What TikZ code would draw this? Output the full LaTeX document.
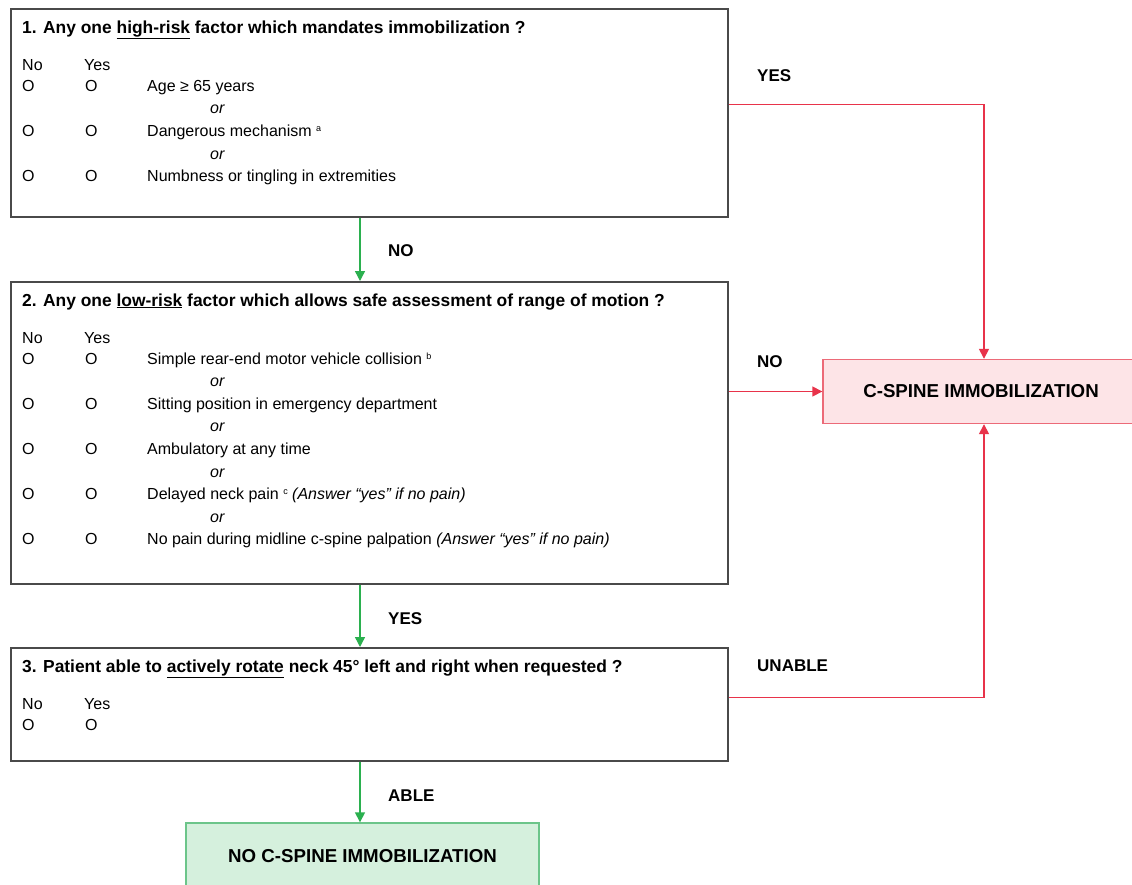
\documentclass[tikz,border=0pt]{standalone}
\usepackage{fontspec}
\setmainfont{Liberation Sans}
\usetikzlibrary{arrows.meta}
\definecolor{boxgray}{HTML}{4A4A4A}
\definecolor{arrgreen}{HTML}{2BB04F}
\definecolor{arrred}{HTML}{E8334A}
\definecolor{redfill}{HTML}{FDE4E7}
\definecolor{redline}{HTML}{EC6A78}
\definecolor{greenfill}{HTML}{D5F0DD}
\definecolor{greenline}{HTML}{6CC58A}
\newcommand\fnmark[1]{\raisebox{5pt}{\fontsize{9}{9}\selectfont #1}}
\begin{document}
\begin{tikzpicture}[x=1pt,y=-1pt,
  qbox/.style={draw=boxgray, line width=1.6pt, anchor=north west, inner sep=0pt},
  body/.style={anchor=base west, inner sep=0pt, font=\fontsize{16}{19}\selectfont},
  orlbl/.style={anchor=base west, inner sep=0pt, font=\fontsize{16}{19}\selectfont\itshape},
  ttl/.style={anchor=base west, inner sep=0pt, font=\fontsize{17.4}{20}\selectfont\bfseries},
  lbl/.style={anchor=base west, inner sep=0pt, font=\fontsize{17}{20}\selectfont\bfseries},
  outcome/.style={inner sep=0pt, font=\fontsize{18.7}{22}\selectfont\bfseries},
  garrow/.style={draw=arrgreen, line width=1.4pt, -{Triangle[length=10pt,width=10pt]}},
  rarrow/.style={draw=arrred, line width=1.5pt, -{Triangle[length=10pt,width=10pt]}},
]
\clip (0,0) rectangle (1132,884);
\fill[white] (0,0) rectangle (1132,884);

% question boxes
\node[qbox, minimum width=717pt, minimum height=208pt] (b1) at (10,8) {};
\node[qbox, minimum width=717pt, minimum height=302pt] (b2) at (10,281) {};
\node[qbox, minimum width=717pt, minimum height=113pt] (b3) at (10,647) {};

% outcome boxes
\node[outcome, draw=redline, fill=redfill, line width=1.4pt, minimum width=316pt, minimum height=64pt] (rb) at (981,391.5) {C-SPINE IMMOBILIZATION};
\node[outcome, draw=greenline, fill=greenfill, line width=1.4pt, minimum width=353pt, minimum height=66pt] (gb) at (362.5,856) {NO C-SPINE IMMOBILIZATION};

% box 1 text
\node[ttl] (t1) at (22,33) {1. Any one \underline{high-risk} factor which mandates immobilization ?};
\node[body] (n1) at (22,70) {No};
\node[body] (y1) at (84,70) {Yes};
\node[body] (o1a) at (22,91) {O};
\node[body] (p1a) at (85,91) {O};
\node[body] (q1a) at (147,91) {Age ≥ 65 years};
\node[orlbl] (or1a) at (210,113.7) {or};
\node[body] (o1b) at (22,136.4) {O};
\node[body] (p1b) at (85,136.4) {O};
\node[body] (q1b) at (147,136.4) {Dangerous mechanism \fnmark{a}};
\node[orlbl] (or1b) at (210,159.1) {or};
\node[body] (o1c) at (22,181.8) {O};
\node[body] (p1c) at (85,181.8) {O};
\node[body] (q1c) at (147,181.8) {Numbness or tingling in extremities};

% box 2 text
\node[ttl] (t2) at (22,306) {2. Any one \underline{low-risk} factor which allows safe assessment of range of motion ?};
\node[body] (n2) at (22,343) {No};
\node[body] (y2) at (84,343) {Yes};
\node[body] (o2a) at (22,364) {O};
\node[body] (p2a) at (85,364) {O};
\node[body] (q2a) at (147,364) {Simple rear-end motor vehicle collision \fnmark{b}};
\node[orlbl] (or2a) at (210,386.6) {or};
\node[body] (o2b) at (22,409.2) {O};
\node[body] (p2b) at (85,409.2) {O};
\node[body] (q2b) at (147,409.2) {Sitting position in emergency department};
\node[orlbl] (or2b) at (210,431.8) {or};
\node[body] (o2c) at (22,454.4) {O};
\node[body] (p2c) at (85,454.4) {O};
\node[body] (q2c) at (147,454.4) {Ambulatory at any time};
\node[orlbl] (or2c) at (210,477) {or};
\node[body] (o2d) at (22,499.6) {O};
\node[body] (p2d) at (85,499.6) {O};
\node[body] (q2d) at (147,499.6) {Delayed neck pain \fnmark{c} \textit{(Answer “yes” if no pain)}};
\node[orlbl] (or2d) at (210,522.2) {or};
\node[body] (o2e) at (22,544.8) {O};
\node[body] (p2e) at (85,544.8) {O};
\node[body] (q2e) at (147,544.8) {No pain during midline c-spine palpation \textit{(Answer “yes” if no pain)}};

% box 3 text
\node[ttl] (t3) at (22,672) {3. Patient able to \underline{actively rotate} neck 45° left and right when requested ?};
\node[body] (n3) at (22,709) {No};
\node[body] (y3) at (84,709) {Yes};
\node[body] (o3a) at (22,730) {O};
\node[body] (p3a) at (85,730) {O};

% connectors
\coordinate (gx) at (360,0);
\draw[garrow] (b1.south -| gx) -- (b2.north -| gx);
\draw[garrow] (b2.south -| gx) -- (b3.north -| gx);
\draw[garrow] (b3.south -| gx) -- (gb.north -| gx);
\draw[rarrow] ([yshift=8.5pt]b1.east) -| ([xshift=3pt]rb.north);
\draw[rarrow] (rb.west -| b2.east) -- (rb.west);
\draw[rarrow] ([yshift=7pt]b3.east) -| ([xshift=3pt]rb.south);

% connector labels
\node[lbl] (lyes1) at (757,81) {YES};
\node[lbl] (lno1) at (388,256) {NO};
\node[lbl] (lno2) at (757,367) {NO};
\node[lbl] (lyes2) at (388,624) {YES};
\node[lbl] (lunable) at (757,671) {UNABLE};
\node[lbl] (lable) at (388,801) {ABLE};
\end{tikzpicture}
\end{document}
